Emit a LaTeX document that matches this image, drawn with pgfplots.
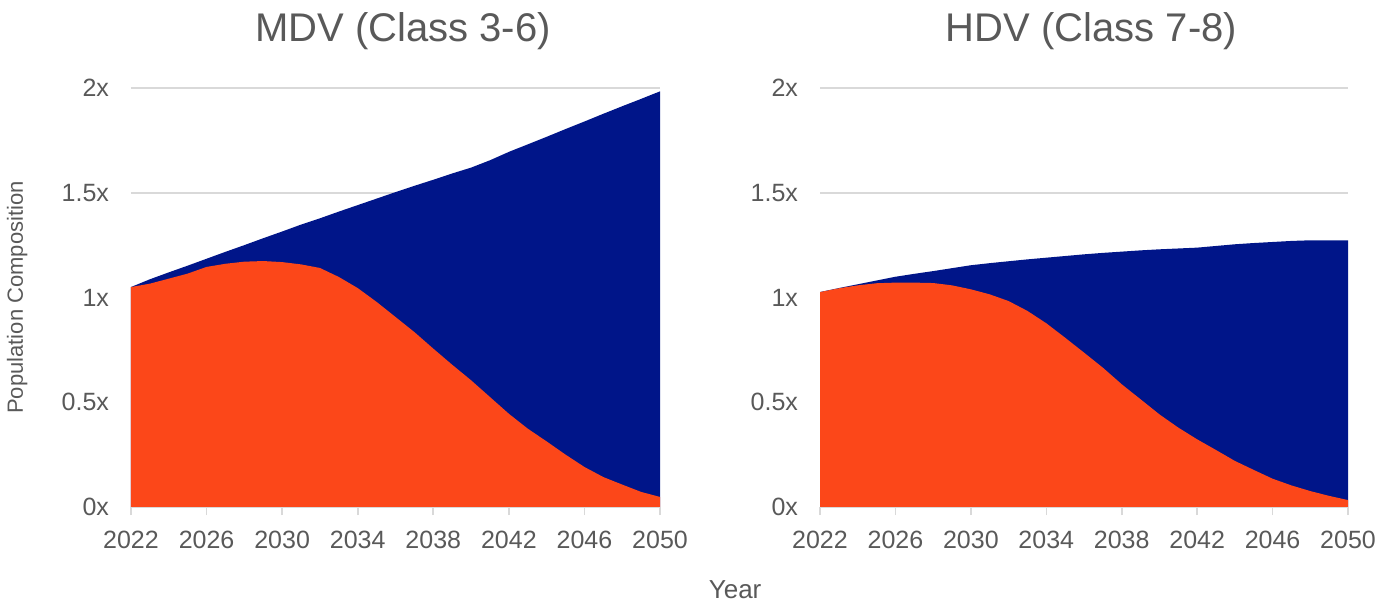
\documentclass[border=0pt]{standalone}
\usepackage{fontspec}
\setmainfont{Liberation Sans}
\usepackage{pgfplots}
\usepackage{pgfplotstable}
\pgfplotsset{compat=1.18}

\definecolor{iceorange}{RGB}{252,71,25}
\definecolor{zevnavy}{RGB}{0,21,137}
\definecolor{txtgray}{RGB}{89,89,89}
\definecolor{gridgray}{RGB}{217,217,217}

% year, total population, ICE part (orange)
\pgfplotstableread{
year total ice
2022 1.050 1.050
2023 1.087 1.066
2024 1.120 1.090
2025 1.152 1.114
2026 1.185 1.146
2027 1.218 1.161
2028 1.250 1.171
2029 1.283 1.174
2030 1.315 1.169
2031 1.348 1.158
2032 1.378 1.141
2033 1.410 1.098
2034 1.441 1.045
2035 1.472 0.979
2036 1.503 0.907
2037 1.533 0.835
2038 1.562 0.756
2039 1.592 0.679
2040 1.620 0.605
2041 1.655 0.525
2042 1.695 0.445
2043 1.731 0.374
2044 1.767 0.313
2045 1.804 0.250
2046 1.840 0.191
2047 1.877 0.143
2048 1.913 0.107
2049 1.948 0.072
2050 1.984 0.048
}\mdv

\pgfplotstableread{
year total ice
2022 1.026 1.026
2023 1.045 1.044
2024 1.063 1.058
2025 1.081 1.068
2026 1.099 1.071
2027 1.113 1.071
2028 1.126 1.069
2029 1.140 1.058
2030 1.154 1.039
2031 1.164 1.015
2032 1.173 0.983
2033 1.182 0.936
2034 1.190 0.877
2035 1.198 0.808
2036 1.206 0.737
2037 1.213 0.665
2038 1.219 0.586
2039 1.225 0.514
2040 1.230 0.442
2041 1.234 0.379
2042 1.238 0.323
2043 1.246 0.272
2044 1.254 0.220
2045 1.260 0.177
2046 1.265 0.135
2047 1.270 0.103
2048 1.273 0.076
2049 1.273 0.053
2050 1.273 0.033
}\hdv

\pgfplotsset{
  panel/.style={
    scale only axis,
    height=209.5pt,
    xmin=2022, xmax=2050,
    ymin=0, ymax=2,
    xtick={2022,2026,...,2050},
    minor x tick num=3,
    ytick={0,0.5,1,1.5,2},
    yticklabels={0x,0.5x,1x,1.5x,2x},
    axis lines*=left,
    axis line style={-},
    y axis line style={draw=none},
    x axis line style={gridgray, line width=1pt},
    ytick style={draw=none},
    xtick style={gridgray, line width=0.8pt},
    minor x tick style={gridgray, line width=0.8pt},
    tick align=outside,
    major tick length=4pt,
    minor tick length=4pt,
    ymajorgrids,
    grid style={gridgray, line width=1pt},
    tick label style={font=\fontsize{12.5}{14}\selectfont, text=txtgray},
    yticklabel style={xshift=-3.5pt},
    xticklabel style={yshift=-4.5pt},
    /pgf/number format/assume math mode=true,
    /pgf/number format/1000 sep={},
    title style={font=\fontsize{20}{22}\selectfont, text=txtgray,
      at={(axis description cs:0.514,1.107)}, anchor=center},
  }
}

\begin{document}
\begin{tikzpicture}
\path[use as bounding box] (0,0) rectangle (699pt,302.5pt);

\begin{axis}[panel,
    at={(65.5pt,49pt)}, anchor=south west,
    width=264.5pt,
    title={MDV (Class 3-6)},
    ylabel={Population Composition},
    ylabel style={font=\fontsize{11}{12}\selectfont, text=txtgray,
      at={(axis description cs:-0.215,0.5)}, anchor=center},
    xlabel={Year},
    xlabel style={font=\fontsize{13}{15}\selectfont, text=txtgray,
      at={(axis description cs:1.142,-0.198)}, anchor=center},
  ]
  \addplot[draw=none, fill=zevnavy] table[x=year, y=total] {\mdv} \closedcycle;
  \addplot[draw=none, fill=iceorange] table[x=year, y=ice] {\mdv} \closedcycle;
\end{axis}

\begin{axis}[panel,
    at={(410pt,49pt)}, anchor=south west,
    width=264pt,
    title={HDV (Class 7-8)},
  ]
  \addplot[draw=none, fill=zevnavy] table[x=year, y=total] {\hdv} \closedcycle;
  \addplot[draw=none, fill=iceorange] table[x=year, y=ice] {\hdv} \closedcycle;
\end{axis}
\end{tikzpicture}
\end{document}
